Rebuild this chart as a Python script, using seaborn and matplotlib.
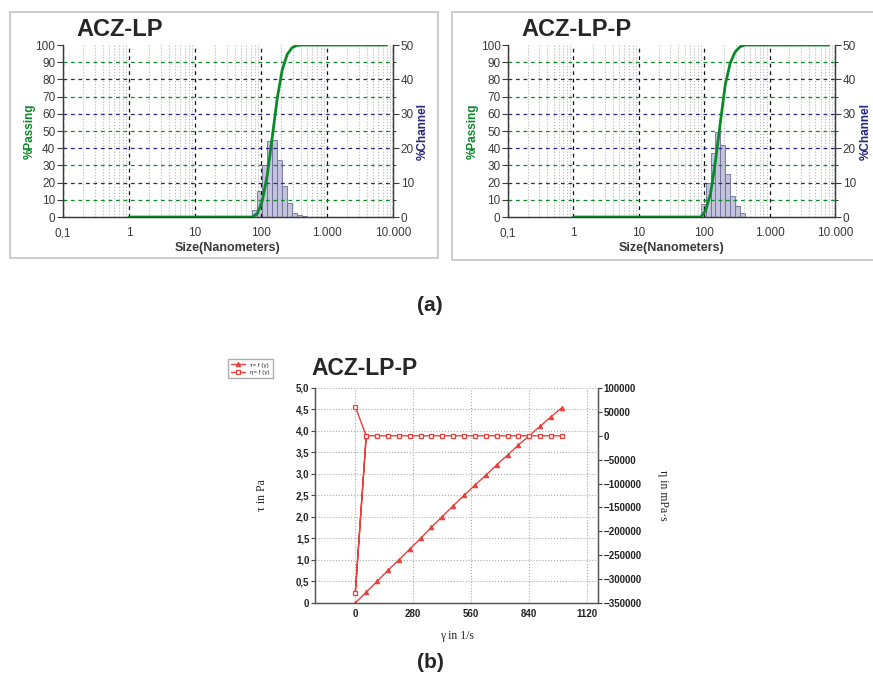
import numpy as np
import pandas as pd
import matplotlib
matplotlib.use('Agg')
import matplotlib.pyplot as plt
import matplotlib.ticker as mticker
from matplotlib.patches import Rectangle
import seaborn as sns

sns.set_style('white')
plt.rcParams['font.family'] = ['Liberation Sans', 'DejaVu Sans']

# --- particle size data (a) ---
lp_edges = [74, 88, 104.7, 124.5, 148, 176, 209.3, 248.9, 296, 352, 418.6, 497.8]
lp_channel = [2.0, 7.5, 15.0, 22.0, 22.5, 16.5, 9.0, 4.0, 1.3, 0.5, 0.2]
lp_size = [1, 74, 88, 104.7, 124.5, 148, 176, 209.3, 248.9, 296, 352, 418.6, 8000]
lp_passing = [0, 0, 2, 9.5, 24.5, 46.5, 69, 85.5, 94.5, 98.5, 99.8, 100, 100]

lpp_edges = [88, 104.7, 124.5, 148, 176, 209.3, 248.9, 296, 352, 418.6]
lpp_channel = [3.7, 9.9, 18.7, 24.6, 20.9, 12.4, 6.0, 3.2, 1.2]
lpp_size = [1, 88, 104.7, 124.5, 148, 176, 209.3, 248.9, 296, 352, 418.6, 8000]
lpp_passing = [0, 0, 3.7, 13.6, 32.3, 55, 77, 89.5, 96, 99, 100, 100]

size_ticks = [0.1, 1, 10, 100, 1000, 10000]
size_labels = ['0,1', '1', '10', '100', '1.000', '10.000']

# --- rheology data (b) ---
shear_rate = [0, 53, 105, 158, 211, 263, 316, 368, 421, 474, 526, 579, 632,
              684, 737, 789, 842, 895, 947, 1000]
tau = [0, 0.25, 0.5, 0.76, 1.0, 1.25, 1.5, 1.76, 2.01, 2.26, 2.5, 2.74, 2.97,
       3.21, 3.44, 3.67, 3.89, 4.11, 4.33, 4.54]
eta_rate = [0, 53, 0, 53, 105, 158, 211, 263, 316, 368, 421, 474, 526, 579, 632,
            684, 737, 789, 842, 895, 947, 1000]
eta = [61000, 0, -330000] + [0] * 19

GREEN = '#0b8a2a'
NAVY = '#25257a'
GREY = '#3a3a3a'
RED = '#e8403a'

fig = plt.figure(figsize=(8.73, 6.75), dpi=100)


def psd_panel(rect, edges, channel, size, passing, title, title_x, lab_left, lab_right):
    ax = fig.add_axes(rect)
    axc = ax.twinx()
    edges = np.array(edges, dtype=float)
    bars = pd.DataFrame({'size': np.sqrt(edges[:-1] * edges[1:]), 'channel': channel})
    sns.histplot(data=bars, x='size', weights='channel', bins=list(np.log10(edges)),
                 log_scale=True, ax=axc, color='#c3c3de', edgecolor='#6c6c98',
                 linewidth=0.6, alpha=1)
    ax.set_xscale('log')
    sns.lineplot(x=size, y=passing, ax=ax, color=GREEN, linewidth=2,
                 sort=False, estimator=None)
    ax.set_zorder(axc.get_zorder() + 1)
    ax.patch.set_visible(False)

    ax.set_xlim(0.1, 10000)
    ax.set_ylim(0, 100)
    axc.set_ylim(0, 50)
    ax.set_xticks(size_ticks)
    ax.set_xticklabels(size_labels)
    ax.xaxis.set_minor_locator(mticker.LogLocator(base=10, subs=np.arange(2, 10)))
    ax.xaxis.set_minor_formatter(mticker.NullFormatter())
    ax.set_yticks(np.arange(0, 101, 10))
    axc.set_yticks(np.arange(0, 51, 10))
    axc.yaxis.set_minor_locator(mticker.MultipleLocator(5))

    ax.grid(True, axis='x', which='major', color='#111111', linestyle=(0, (3, 3)), linewidth=0.9)
    ax.grid(True, axis='x', which='minor', color='#b5b5b5', linestyle=':', linewidth=0.8)
    ax.grid(True, axis='y', which='major', linestyle=(0, (3, 3)), linewidth=0.9)
    for v, gl in zip(ax.get_yticks(), ax.yaxis.get_gridlines()):
        k = int(round(v / 10))
        if k in (0, 10):
            gl.set_visible(False)
        elif k % 2 == 1:
            gl.set_color(GREEN)
        else:
            gl.set_color(NAVY)
    axc.grid(False)

    for a in (ax, axc):
        a.tick_params(labelsize=8.5, labelcolor=GREY, color=GREY, length=4, width=0.8,
                      direction='out')
        a.tick_params(axis='y', pad=1.5)
        a.tick_params(which='minor', length=2.5, color=GREY, width=0.7)
        a.spines['top'].set_visible(False)
        for s in ('left', 'right', 'bottom'):
            a.spines[s].set_color(GREY)
            a.spines[s].set_linewidth(0.9)
    ax.set_xlabel('Size(Nanometers)', fontsize=9, fontweight='bold', color=GREY, labelpad=2)
    ax.set_ylabel('%Passing', fontsize=8.5, fontweight='bold', color=GREEN, va='center')
    axc.set_ylabel('%Channel', fontsize=8.5, fontweight='bold', color=NAVY, va='center')
    ax.yaxis.set_label_coords(lab_left, 0.5)
    axc.yaxis.set_label_coords(lab_right, 0.5)
    fig.text(title_x, 0.956, title, fontsize=17, fontweight='bold', va='center', ha='left')
    return ax


psd_panel([0.0722, 0.6785, 0.378, 0.2548], lp_edges, lp_channel, lp_size, lp_passing,
          'ACZ-LP', 0.088, -0.1, 1.09)
psd_panel([0.582, 0.6785, 0.3746, 0.2548], lpp_edges, lpp_channel, lpp_size, lpp_passing,
          'ACZ-LP-P', 0.597, -0.107, 1.094)

# panel frames
fig.patches.append(Rectangle((0.0115, 0.618), 0.490, 0.364, transform=fig.transFigure,
                             facecolor='none', edgecolor='#c8c8c8', linewidth=1.3, zorder=0))
fig.patches.append(Rectangle((0.518, 0.615), 0.49, 0.367, transform=fig.transFigure,
                             facecolor='none', edgecolor='#c8c8c8', linewidth=1.3, zorder=0))

fig.text(0.4925, 0.548, '(a)', fontsize=15, fontweight='bold', ha='center', va='center')
fig.text(0.4925, 0.019, '(b)', fontsize=15, fontweight='bold', ha='center', va='center')

# --- rheology panel ---
axb = fig.add_axes([0.3608, 0.1067, 0.3242, 0.3185])
axe = axb.twinx()
sns.lineplot(x=shear_rate, y=tau, ax=axb, color=RED, linewidth=1.0, marker='^',
             markersize=3.2, markeredgecolor=RED, sort=False, estimator=None)
sns.lineplot(x=eta_rate, y=eta, ax=axe, color=RED, linewidth=1.0, marker='s',
             markersize=3.5, markerfacecolor='white', markeredgecolor=RED,
             markeredgewidth=0.9, sort=False, estimator=None)

axb.set_xlim(-195, 1175)
axb.set_ylim(0, 5)
axe.set_ylim(-350000, 100000)
axb.set_xticks([0, 280, 560, 840, 1120])
axb.xaxis.set_minor_locator(mticker.MultipleLocator(140))
axb.set_yticks(np.arange(0, 5.01, 0.5))
axb.set_yticklabels(['0'] + [f'{v:.1f}'.replace('.', ',') for v in np.arange(0.5, 5.01, 0.5)])
axe.set_yticks(np.arange(-350000, 100001, 50000))
axb.grid(True, which='major', color='#a8a8a8', linestyle=':', linewidth=0.8)
axe.grid(False)
for a in (axb, axe):
    a.tick_params(labelsize=7, labelcolor='#222222', color='#444444', length=3, width=0.8,
                  direction='out', pad=1)
    a.tick_params(which='minor', length=2, color='#444444')
    a.spines['top'].set_visible(False)
    for s in ('left', 'right', 'bottom'):
        a.spines[s].set_color('#555555')
        a.spines[s].set_linewidth(0.9)
for lbl in axb.get_xticklabels() + axb.get_yticklabels() + axe.get_yticklabels():
    lbl.set_fontweight('bold')

serif = ['Liberation Serif', 'DejaVu Serif']
axb.set_xlabel('γ in 1/s', fontsize=8.5, family=serif)
axb.set_ylabel('τ in Pa', fontsize=8.5, family=serif, va='center')
axe.set_ylabel('η in mPa·s', fontsize=8.5, family=serif, rotation=270, va='center')
axb.xaxis.set_label_coords(0.5, -0.126)
axb.yaxis.set_label_coords(-0.187, 0.5)
axe.yaxis.set_label_coords(1.23, 0.5)

for a in (axb, axe):
    if a.get_legend() is not None:
        a.get_legend().remove()
handles = [axb.get_lines()[0], axe.get_lines()[0]]
fig.legend(handles, ['τ= f (γ)', 'η= f (γ)'], loc='upper left',
           bbox_to_anchor=(225 / 873, 1 - 356 / 675), fontsize=4.5, frameon=True,
           fancybox=False, edgecolor='#999999', handlelength=2.2, borderpad=0.5,
           labelspacing=0.3)

fig.text(0.357, 0.4548, 'ACZ-LP-P', fontsize=16.5, fontweight='bold', ha='left', va='center')

fig.savefig('out.png', dpi=100, facecolor='white')
